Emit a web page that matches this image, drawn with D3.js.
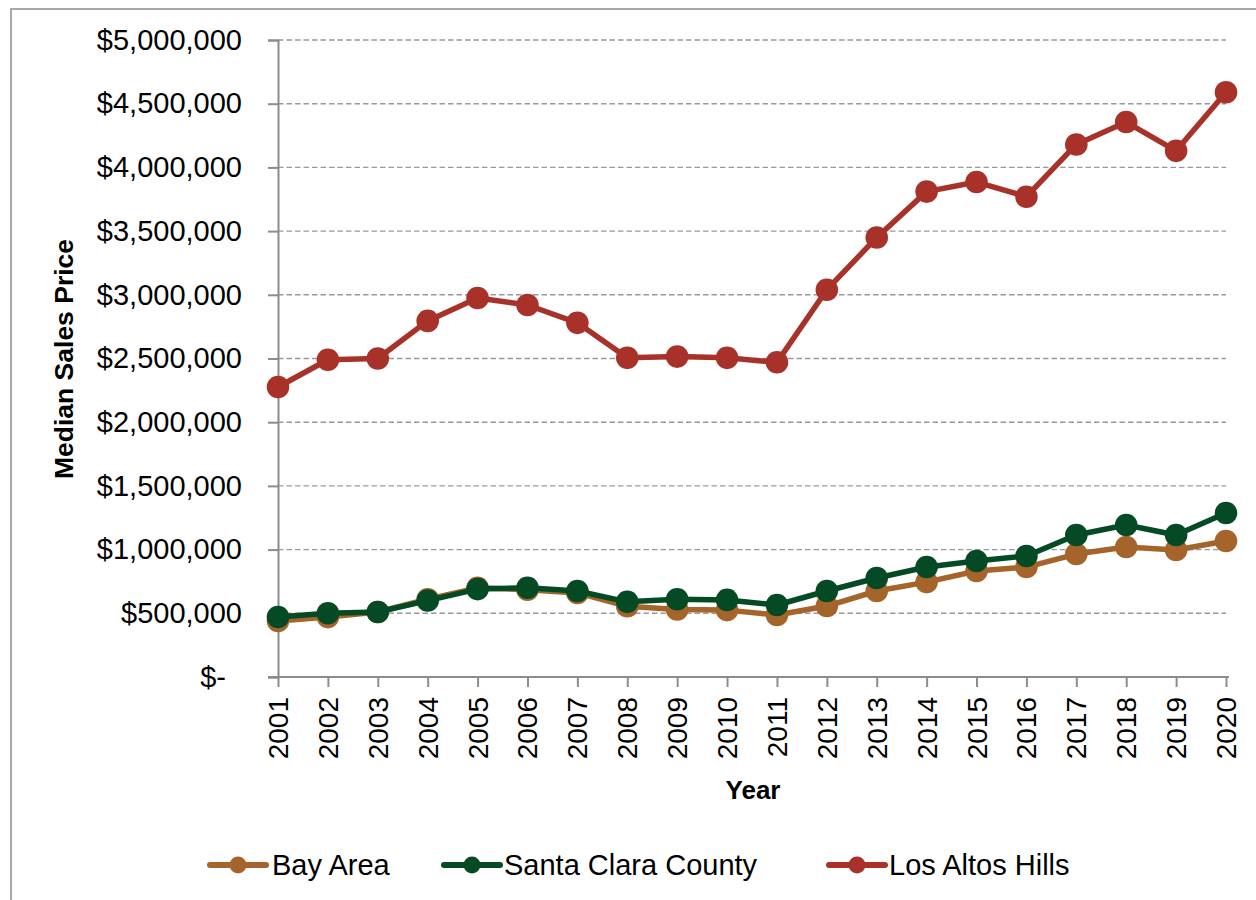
<!DOCTYPE html>
<html>
<head>
<meta charset="utf-8">
<script src="https://cdn.jsdelivr.net/npm/d3@7"></script>
<style>
  html, body { margin: 0; padding: 0; background: #fff; }
  svg { display: block; }
  text { font-family: "Liberation Sans", Arial, sans-serif; fill: #000; }
</style>
</head>
<body>
<svg id="chart" width="1256" height="900"></svg>
<script>
const years = ["2001","2002","2003","2004","2005","2006","2007","2008","2009","2010",
               "2011","2012","2013","2014","2015","2016","2017","2018","2019","2020"];
const bayArea = [440000, 470000, 510000, 610000, 700000, 685000, 660000, 555000, 530000, 525000,
                 487000, 557000, 675000, 745000, 832000, 863000, 965000, 1020000, 997000, 1068000];
const santaClara = [471000, 500000, 510000, 600000, 690000, 700000, 675000, 590000, 610000, 605000,
                    565000, 675000, 777000, 863000, 910000, 950000, 1115000, 1193000, 1115000, 1287000];
const losAltosHills = [2276000, 2490000, 2500000, 2795000, 2975000, 2920000, 2780000, 2505000, 2515000, 2505000,
                       2470000, 3040000, 3450000, 3810000, 3885000, 3770000, 4180000, 4356000, 4130000, 4590000];
const yTicks = [0, 500000, 1000000, 1500000, 2000000, 2500000, 3000000, 3500000, 4000000, 4500000, 5000000];
const seriesNames = ["Bay Area", "Santa Clara County", "Los Altos Hills"];
const seriesColors = ["#A5652A", "#044A24", "#A83229"];

const series = [bayArea, santaClara, losAltosHills].map((vals, i) => ({
  name: seriesNames[i], color: seriesColors[i],
  values: vals.map((v, j) => ({ year: years[j], value: v }))
}));

const svg = d3.select("#chart");
const axisColor = "#8c8c8c";

// outer border
svg.append("rect").attr("x", 11).attr("y", 9).attr("width", 1400).attr("height", 1000)
  .attr("fill", "none").attr("stroke", axisColor).attr("stroke-width", 1.5);

const x = d3.scalePoint().domain(years).range([278, 1226]);
const y = d3.scaleLinear().domain([0, 5000000]).range([677, 40]);

// gridlines
svg.append("g").selectAll("line").data(yTicks.filter(d => d > 0)).join("line")
  .attr("x1", 278).attr("x2", 1226)
  .attr("y1", d => y(d)).attr("y2", d => y(d))
  .attr("stroke", "#999999").attr("stroke-width", 1.4).attr("stroke-dasharray", "5.5,3");

const fmt = d => d === 0 ? "$-" : "$" + d3.format(",")(d);

// y axis
const yAxis = svg.append("g").attr("transform", "translate(278,0)")
  .call(d3.axisLeft(y).tickValues(yTicks).tickFormat(fmt).tickSize(10).tickPadding(26));
yAxis.select(".domain").attr("stroke", axisColor).attr("stroke-width", 2);
yAxis.selectAll(".tick line").attr("stroke", axisColor).attr("stroke-width", 2);
yAxis.selectAll(".tick text").attr("font-size", 29).attr("font-family", "Liberation Sans, Arial, sans-serif")
  .attr("fill", "#000")
  .attr("dx", d => d === 0 ? -16 : 0);

// x axis
const xAxis = svg.append("g").attr("transform", "translate(0,677)")
  .call(d3.axisBottom(x).tickSize(10).tickSizeOuter(0));
xAxis.select(".domain").attr("stroke", axisColor).attr("stroke-width", 2)
  .attr("d", "M268,0H1229");
xAxis.selectAll(".tick line").attr("stroke", axisColor).attr("stroke-width", 2);
xAxis.selectAll(".tick text")
  .attr("font-size", 28).attr("font-family", "Liberation Sans, Arial, sans-serif").attr("fill", "#000")
  .attr("text-anchor", "end").attr("dy", null)
  .attr("y", 0).attr("x", 0)
  .attr("dominant-baseline", "central")
  .attr("transform", "translate(0,20) rotate(-90)");

// axis titles
svg.append("text").attr("transform", "translate(64,359) rotate(-90)")
  .attr("text-anchor", "middle").attr("dominant-baseline", "central")
  .attr("font-size", 26.5).attr("font-weight", "bold").text("Median Sales Price");
svg.append("text").attr("x", 753).attr("y", 790)
  .attr("text-anchor", "middle").attr("dominant-baseline", "central")
  .attr("font-size", 26).attr("font-weight", "bold").text("Year");

// lines
const line = d3.line().x(d => x(d.year)).y(d => y(d.value));
series.forEach(s => {
  const g = svg.append("g");
  g.append("path").datum(s.values).attr("d", line)
    .attr("fill", "none").attr("stroke", s.color).attr("stroke-width", 5.5)
    .attr("stroke-linejoin", "round");
  g.selectAll("circle").data(s.values).join("circle")
    .attr("cx", d => x(d.year)).attr("cy", d => y(d.value)).attr("r", 11.3)
    .attr("fill", s.color);
});

// legend
const legendPos = [{ lx: 210, tx: 272 }, { lx: 444, tx: 504 }, { lx: 829, tx: 889 }];
const ly = 865;
series.forEach((s, i) => {
  const p = legendPos[i];
  svg.append("line").attr("x1", p.lx).attr("x2", p.lx + 56).attr("y1", ly).attr("y2", ly)
    .attr("stroke", s.color).attr("stroke-width", 6).attr("stroke-linecap", "round");
  svg.append("circle").attr("cx", p.lx + 28).attr("cy", ly).attr("r", 8.5).attr("fill", s.color);
  svg.append("text").attr("x", p.tx).attr("y", ly).attr("dominant-baseline", "central")
    .attr("font-size", 29).text(s.name);
});
</script>
</body>
</html>
